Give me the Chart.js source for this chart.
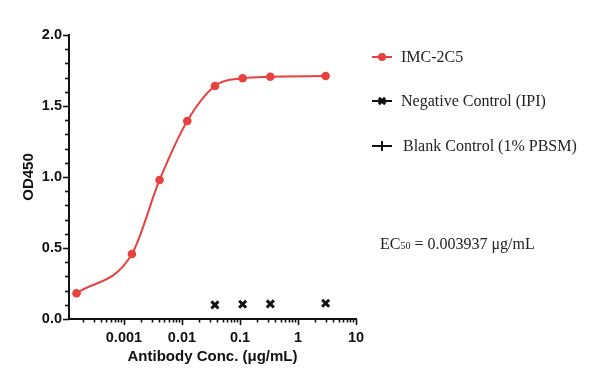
<!DOCTYPE html>
<html><head><meta charset="utf-8">
<script src="https://cdn.jsdelivr.net/npm/chart.js@4/dist/chart.umd.min.js"></script>
<style>html,body{margin:0;padding:0;background:#fff}#wrap{width:608px;height:382px}</style>
</head><body><div id="wrap"><canvas id="c" width="608" height="382"></canvas></div>
<script>
// ---- data ----
const concIMC = [0.00015242, 0.0013717, 0.0041152, 0.012346, 0.037037, 0.11111, 0.33333, 3];
const odIMC   = [0.181, 0.458, 0.979, 1.394, 1.641, 1.695, 1.706, 1.711];
const concNeg = [0.037037, 0.11111, 0.33333, 3];
const odNeg   = [0.099, 0.104, 0.106, 0.111];
const concBlank = [];
const odBlank   = [];
const seriesNames = ['IMC-2C5', 'Negative Control (IPI)', 'Blank Control (1% PBSM)'];
const xTickLabels = ['0.001', '0.01', '0.1', '1', '10'];
const yTickLabels = ['0.0', '0.5', '1.0', '1.5', '2.0'];
const xTitle = 'Antibody Conc. (μg/mL)';
const yTitle = 'OD450';
const ec50Parts = ['EC', '50', ' = 0.003937 μg/mL'];

const RED = '#e8413f';
const BLACK = '#111111';
const pts = (xs, ys) => xs.map((x, i) => ({x: x, y: ys[i]}));

const tickPlugin = {
  id: 'tickMarks',
  afterDraw(chart) {
    const ctx = chart.ctx;
    const xs = chart.scales.x, ys = chart.scales.y;
    const ca = chart.chartArea;
    ctx.save();
    ctx.strokeStyle = BLACK;
    ctx.lineWidth = 1.6;
    const yMax = parseFloat(yTickLabels[yTickLabels.length - 1]);
    for (let i = 0; i <= Math.round(yMax * 10); i++) {
      const v = i / 10;
      const py = Math.round(ys.getPixelForValue(v)) + 0.5;
      const len = (i % 5 === 0) ? 6 : 4;
      ctx.beginPath(); ctx.moveTo(ca.left, py); ctx.lineTo(ca.left - len, py); ctx.stroke();
    }
    for (let k = -5; k <= 2; k++) {
      for (let m = 1; m <= 9; m++) {
        const v = m * Math.pow(10, k);
        if (v < xs.min * 1.0001 || v > xs.max * 1.0001) continue;
        const px = Math.round(xs.getPixelForValue(v)) + 0.5;
        const len = (m === 1) ? 6 : 3.5;
        ctx.beginPath(); ctx.moveTo(px, ca.bottom); ctx.lineTo(px, ca.bottom + len); ctx.stroke();
      }
    }
    ctx.restore();

    // legend
    ctx.save();
    const legY = [57, 101, 146];
    const lx0 = 372, lx1 = 392;
    chart.data.datasets.forEach((ds, i) => {
      const y = legY[i];
      const cx = (lx0 + lx1) / 2;
      ctx.strokeStyle = ds.legendColor;
      ctx.lineWidth = 2;
      ctx.beginPath(); ctx.moveTo(lx0, y); ctx.lineTo(lx1, y); ctx.stroke();
      ctx.fillStyle = ds.legendColor;
      ctx.strokeStyle = ds.legendColor;
      ctx.lineWidth = ds.pointBorderWidth;
      if (ds.pointStyle === 'circle') {
        ctx.beginPath(); ctx.arc(cx, y, ds.legendRadius, 0, Math.PI * 2); ctx.fill();
      } else {
        Chart.helpers.drawPoint(ctx, {pointStyle: ds.pointStyle, radius: ds.legendRadius, rotation: 0, borderWidth: ds.pointBorderWidth}, cx, y);
      }
      ctx.fillStyle = '#222';
      ctx.font = '16px "Liberation Serif", "Times New Roman", serif';
      ctx.textBaseline = 'middle';
      ctx.textAlign = 'left';
      ctx.fillText(ds.label, i === 2 ? 403 : 401, y + 1);
    });
    let x = 380, y = 245;
    ctx.fillStyle = '#222';
    ctx.textBaseline = 'middle';
    ctx.font = '16px "Liberation Serif", "Times New Roman", serif';
    ctx.fillText(ec50Parts[0], x, y); x += ctx.measureText(ec50Parts[0]).width;
    ctx.font = '10px "Liberation Serif", "Times New Roman", serif';
    ctx.fillText(ec50Parts[1], x, y + 1); x += ctx.measureText(ec50Parts[1]).width;
    ctx.font = '16px "Liberation Serif", "Times New Roman", serif';
    ctx.fillText(ec50Parts[2], x, y);
    ctx.restore();
  }
};

const axisFont = {family: '"Liberation Sans", Arial, sans-serif', weight: 'bold', size: 14.5};

new Chart(document.getElementById('c'), {
  type: 'line',
  data: {
    datasets: [
      {
        label: seriesNames[0], data: pts(concIMC, odIMC),
        borderColor: RED, backgroundColor: RED, borderWidth: 2,
        pointStyle: 'circle', pointRadius: 4.3, pointBackgroundColor: RED, pointBorderWidth: 0,
        cubicInterpolationMode: 'monotone', legendColor: RED, legendRadius: 4
      },
      {
        label: seriesNames[1], data: pts(concNeg, odNeg), showLine: false,
        borderColor: BLACK, backgroundColor: BLACK,
        pointStyle: 'crossRot', pointRadius: 5, pointBorderWidth: 3, pointBorderColor: BLACK,
        legendColor: BLACK, legendRadius: 4.5
      },
      {
        label: seriesNames[2], data: pts(concBlank, odBlank), showLine: false,
        borderColor: BLACK, backgroundColor: BLACK,
        pointStyle: 'cross', pointRadius: 4.5, pointBorderWidth: 2, pointBorderColor: BLACK,
        legendColor: BLACK, legendRadius: 5
      }
    ]
  },
  options: {
    responsive: false, animation: false, devicePixelRatio: 1,
    layout: {padding: {left: 0, top: 35, right: 252, bottom: 0}},
    plugins: {legend: {display: false}, tooltip: {enabled: false}},
    scales: {
      x: {
        type: 'logarithmic', min: 1.13e-4, max: 10,
        afterBuildTicks: (s) => { s.ticks = xTickLabels.map(t => ({value: parseFloat(t), major: true})); },
        afterFit: (s) => { s.height = 63; },
        ticks: {
          color: BLACK, font: axisFont, padding: 10, autoSkip: false, maxRotation: 0,
          callback: (v) => { const i = xTickLabels.findIndex(t => Math.abs(parseFloat(t) / v - 1) < 1e-6); return i >= 0 ? xTickLabels[i] : ''; }
        },
        grid: {display: false, drawTicks: false, tickLength: 0},
        border: {display: true, color: BLACK, width: 2},
        title: {display: true, text: xTitle, color: BLACK, font: {family: axisFont.family, weight: 'bold', size: 15}, padding: {top: 0, bottom: 16}}
      },
      y: {
        type: 'linear', min: 0, max: 2,
        afterBuildTicks: (s) => { s.ticks = yTickLabels.map(t => ({value: parseFloat(t)})); },
        afterFit: (s) => { s.width = 69; },
        ticks: {
          color: BLACK, font: axisFont, padding: 7,
          callback: (v) => { const i = yTickLabels.findIndex(t => Math.abs(parseFloat(t) - v) < 1e-9); return i >= 0 ? yTickLabels[i] : ''; }
        },
        grid: {display: false, drawTicks: false, tickLength: 0},
        border: {display: true, color: BLACK, width: 2},
        title: {display: true, text: yTitle, color: BLACK, font: {family: axisFont.family, weight: 'bold', size: 15}, padding: {top: 20, bottom: 0}}
      }
    }
  },
  plugins: [tickPlugin]
});
</script>
</body></html>
